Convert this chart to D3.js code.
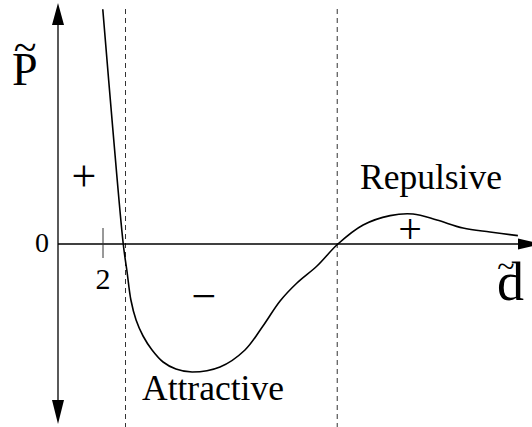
<!DOCTYPE html>
<html>
<head>
<meta charset="utf-8">
<script src="https://cdn.jsdelivr.net/npm/d3@7"></script>
<style>
  body { margin: 0; background: #fff; }
  text { font-family: "Liberation Serif", "DejaVu Serif", "Times New Roman", serif; fill: #000; }
</style>
</head>
<body>
<div id="chart"></div>
<script>
// curve values (d on the x axis, P on the y axis)
var curveD = [1.99, 2.44, 2.9, 3.07, 3.24, 3.47, 3.78, 4.18, 4.67, 5.24, 5.96, 7.2, 8.31, 9.11, 9.87, 10.62, 11.51, 12.44, 13.56, 14.76, 15.78, 16.84, 18.0, 19.2, 20.44];
var curveP = [11.74, 5.7, 0, -1.4, -2.8, -3.8, -4.6, -5.3, -5.9, -6.25, -6.4, -6.15, -5.3, -4.1, -2.85, -1.95, -1.1, 0, 0.95, 1.42, 1.5, 1.2, 0.8, 0.6, 0.42];
var boundaries = [3.0, 12.41];
var tickValues = [2];
var regionLabels = ["Repulsive", "Attractive"];

var width = 532, height = 427;

// scales
var x = d3.scaleLinear().domain([0, 21]).range([58, 530.5]);
var y = d3.scaleLinear().domain([-9, 12]).range([424, 4]);

var svg = d3.select("#chart")
  .append("svg")
  .attr("width", width)
  .attr("height", height);

var data = curveD.map(function(d, i) { return { d: d, p: curveP[i] }; });

// dashed boundaries
svg.selectAll(".bound")
  .data(boundaries)
  .enter().append("line")
  .attr("class", "bound")
  .attr("x1", function(d) { return x(d); })
  .attr("x2", function(d) { return x(d); })
  .attr("y1", 9)
  .attr("y2", height)
  .attr("stroke", "#333")
  .attr("stroke-width", 1)
  .attr("stroke-dasharray", "5,4");

// y axis with arrows at both ends
svg.append("line")
  .attr("x1", x(0)).attr("x2", x(0))
  .attr("y1", 10).attr("y2", 418)
  .attr("stroke", "#000").attr("stroke-width", 1.3);
svg.append("path")
  .attr("d", "M" + x(0) + ",3 L" + (x(0) - 6) + ",25 L" + (x(0) + 6) + ",25 Z")
  .attr("fill", "#000");
svg.append("path")
  .attr("d", "M" + x(0) + ",424 L" + (x(0) - 6) + ",400 L" + (x(0) + 6) + ",400 Z")
  .attr("fill", "#000");

// x axis with arrow
svg.append("line")
  .attr("x1", x(0)).attr("x2", 525)
  .attr("y1", y(0)).attr("y2", y(0))
  .attr("stroke", "#000").attr("stroke-width", 1.3);
svg.append("path")
  .attr("d", "M542," + y(0) + " L518," + (y(0) - 5.5) + " L518," + (y(0) + 5.5) + " Z")
  .attr("fill", "#000");

// tick at d = 2
svg.selectAll(".tick")
  .data(tickValues)
  .enter().append("line")
  .attr("x1", function(d) { return x(d); })
  .attr("x2", function(d) { return x(d); })
  .attr("y1", y(0) - 16).attr("y2", y(0) + 14)
  .attr("stroke", "#333").attr("stroke-width", 1);
svg.selectAll(".ticklabel")
  .data(tickValues)
  .enter().append("text")
  .attr("x", function(d) { return x(d); })
  .attr("y", 289)
  .attr("text-anchor", "middle")
  .style("font-size", "30px")
  .text(function(d) { return d; });

svg.append("text")
  .attr("x", 49).attr("y", 252)
  .attr("text-anchor", "end")
  .style("font-size", "28px")
  .text("0");

// the curve
var line = d3.line()
  .x(function(d) { return x(d.d); })
  .y(function(d) { return y(d.p); })
  .curve(d3.curveCatmullRom.alpha(0.5));

svg.append("path")
  .datum(data)
  .attr("d", line)
  .attr("fill", "none")
  .attr("stroke", "#000")
  .attr("stroke-width", 1.6);

// axis names
svg.append("text")
  .attr("x", 12).attr("y", 85)
  .style("font-size", "46px")
  .text("P");
svg.append("text")
  .attr("x", 25).attr("y", 61)
  .attr("text-anchor", "middle")
  .style("font-size", "42px")
  .text("~");
svg.append("text")
  .attr("x", 497).attr("y", 300)
  .style("font-size", "54px")
  .text("d");
svg.append("text")
  .attr("x", 506).attr("y", 277)
  .attr("text-anchor", "middle")
  .style("font-size", "32px")
  .text("~");

// signs
svg.append("text")
  .attr("x", 84).attr("y", 191)
  .attr("text-anchor", "middle")
  .style("font-size", "44px")
  .text("+");
svg.append("text")
  .attr("x", 410).attr("y", 243)
  .attr("text-anchor", "middle")
  .style("font-size", "42px")
  .text("+");
svg.append("text")
  .attr("x", 204).attr("y", 311)
  .attr("text-anchor", "middle")
  .style("font-size", "44px")
  .text("\u2212");

// region labels
svg.append("text")
  .attr("x", 360).attr("y", 189)
  .style("font-size", "35.5px")
  .text(regionLabels[0]);
svg.append("text")
  .attr("x", 142).attr("y", 400)
  .style("font-size", "35.5px")
  .text(regionLabels[1]);
</script>
</body>
</html>
